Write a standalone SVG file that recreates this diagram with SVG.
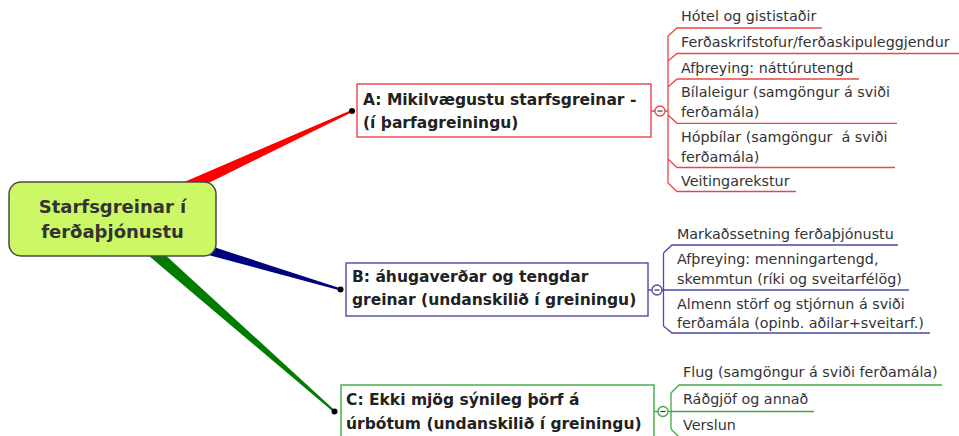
<svg xmlns="http://www.w3.org/2000/svg" width="959" height="436" viewBox="0 0 959 436">
<defs>
<style>
text{font-family:"DejaVu Sans","Liberation Sans",sans-serif;fill:#333;}
.root{font-size:18px;font-weight:bold;text-anchor:middle;}
.main{font-size:15.5px;font-weight:bold;fill:#222;}
.leaf{font-size:14.3px;white-space:pre;}
.box{fill:#fff;stroke-width:1.4;}
.ra{stroke:#f04444;fill:none;stroke-width:1.3;}
.rb{stroke:#4a4aa8;fill:none;stroke-width:1.3;}
.rc{stroke:#40a840;fill:none;stroke-width:1.3;}
.tog{fill:#fff;stroke-width:1.3;}
.minus{stroke:#333;stroke-width:1.2;}
</style>
</defs>
<g id="connectors">
<polygon points="186.9,193.7 181.9,182.9 351.6,110.1 352.4,111.9" fill="#ff0000"/>
<polygon points="200.2,252.8 203,243.6 341,288.5 340.4,290.5" fill="#000080"/>
<polygon points="143.2,251.1 151.2,242.1 335.2,410.8 333.8,412.2" fill="#007c00"/>
<circle cx="352" cy="111" r="3" fill="#000"/>
<circle cx="340.5" cy="289.5" r="3" fill="#000"/>
<circle cx="334.5" cy="411.5" r="3" fill="#000"/>
<!-- A bracket -->
<path class="ra" d="M651,111H655 M665,111H668 M668,36V183 M668,36L677,28H822 M668,61L677,53.5H959 M668,87L677,79H859 M668,115L677,123.3H897 M668,159L677,167.5H895 M668,183L677,191.5H796"/>
<!-- B bracket -->
<path class="rb" d="M648,290H652 M662,290H909 M663.5,253V326 M663.5,253L672,245H898 M663.5,326L672,333H930"/>
<!-- C bracket -->
<path class="rc" d="M654,411.5H658 M668,411.5H814 M671,393V429 M671,393L679,385H942 M671,429L679,437"/>
</g>
<g id="root">
<rect x="9" y="182" width="207" height="74" rx="12" fill="#cdf866" stroke="#4a4a4a" stroke-width="1.5"/>
<text class="root" x="112.5" y="213">Starfsgreinar í</text>
<text class="root" x="112.5" y="238">ferðaþjónustu</text>
</g>
<g id="nodeA">
<rect class="box" x="357" y="84" width="294" height="53" stroke="#f04444"/>
<text class="main" x="363" y="105">A: Mikilvægustu starfsgreinar -</text>
<text class="main" x="363" y="128">(í þarfagreiningu)</text>
<circle class="tog" cx="660" cy="111" r="5" stroke="#f04444"/>
<line class="minus" x1="657.5" y1="111" x2="662.5" y2="111"/>
</g>
<g id="nodeA1"><text class="leaf" x="681" y="21">Hótel og gististaðir</text></g>
<g id="nodeA2"><text class="leaf" x="681" y="47">Ferðaskrifstofur/ferðaskipuleggjendur</text></g>
<g id="nodeA3"><text class="leaf" x="681" y="72.5">Afþreying: náttúrutengd</text></g>
<g id="nodeA4"><text class="leaf" x="681" y="96.5">Bílaleigur (samgöngur á sviði</text><text class="leaf" x="681" y="117">ferðamála)</text></g>
<g id="nodeA5"><text class="leaf" x="681" y="141.5">Hópbílar (samgöngur  á sviði</text><text class="leaf" x="681" y="161.5">ferðamála)</text></g>
<g id="nodeA6"><text class="leaf" x="681" y="186">Veitingarekstur</text></g>
<g id="nodeB">
<rect class="box" x="346" y="263" width="302" height="53" stroke="#4a4aa8"/>
<text class="main" x="352" y="282">B: áhugaverðar og tengdar</text>
<text class="main" x="352" y="305">greinar (undanskilið í greiningu)</text>
<circle class="tog" cx="657" cy="290" r="5" stroke="#4a4aa8"/>
<line class="minus" x1="654.5" y1="290" x2="659.5" y2="290"/>
</g>
<g id="nodeB1"><text class="leaf" x="677" y="238.5">Markaðssetning ferðaþjónustu</text></g>
<g id="nodeB2"><text class="leaf" x="677" y="263.5">Afþreying: menningartengd,</text><text class="leaf" x="677" y="283.5">skemmtun (ríki og sveitarfélög)</text></g>
<g id="nodeB3"><text class="leaf" x="677" y="308.5">Almenn störf og stjórnun á sviði</text><text class="leaf" x="677" y="327.5">ferðamála (opinb. aðilar+sveitarf.)</text></g>
<g id="nodeC">
<rect class="box" x="341" y="385" width="313" height="60" stroke="#40a840"/>
<text class="main" x="346" y="405">C: Ekki mjög sýnileg þörf á</text>
<text class="main" x="346" y="429">úrbótum (undanskilið í greiningu)</text>
<circle class="tog" cx="663" cy="411.5" r="5" stroke="#40a840"/>
<line class="minus" x1="660.5" y1="411.5" x2="665.5" y2="411.5"/>
</g>
<g id="nodeC1"><text class="leaf" x="683" y="377">Flug (samgöngur á sviði ferðamála)</text></g>
<g id="nodeC2"><text class="leaf" x="683" y="404">Ráðgjöf og annað</text></g>
<g id="nodeC3"><text class="leaf" x="683" y="430">Verslun</text></g>
</svg>
